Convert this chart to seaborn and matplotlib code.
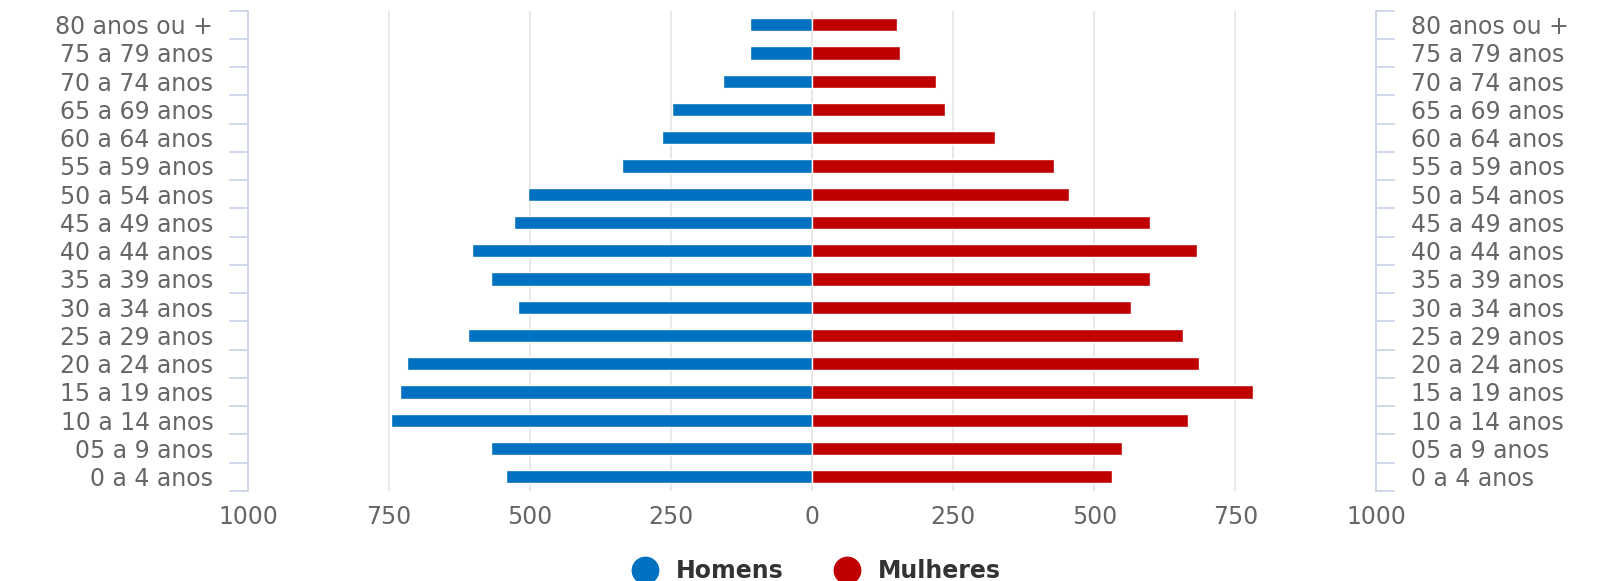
import numpy as np
import pandas as pd
import matplotlib.pyplot as plt
from matplotlib.lines import Line2D
import seaborn as sns

# faixas etarias (de cima para baixo)
faixas = ['80 anos ou +', '75 a 79 anos', '70 a 74 anos', '65 a 69 anos',
          '60 a 64 anos', '55 a 59 anos', '50 a 54 anos', '45 a 49 anos',
          '40 a 44 anos', '35 a 39 anos', '30 a 34 anos', '25 a 29 anos',
          '20 a 24 anos', '15 a 19 anos', '10 a 14 anos', '05 a 9 anos',
          '0 a 4 anos']
homens = [111, 111, 158, 249, 267, 338, 503, 529, 603, 570, 522, 610,
          719, 730, 747, 570, 543]
mulheres = [151, 155, 219, 235, 324, 429, 456, 598, 682, 598, 565, 657,
            686, 782, 666, 549, 531]
sexos = ['Homens', 'Mulheres']
cores = {'Homens': '#0070c0', 'Mulheres': '#c00000'}
ticks_x = [-1000, -750, -500, -250, 0, 250, 500, 750, 1000]

df = pd.DataFrame({
    'faixa': faixas * 2,
    'valor': [-v for v in homens] + mulheres,
    'sexo': ['Homens'] * len(faixas) + ['Mulheres'] * len(faixas),
})

sns.set_style('white')
plt.rcParams['font.family'] = ['DejaVu Sans']

fig = plt.figure(figsize=(16.13, 5.81), dpi=100)
ax = fig.add_axes([0.1538, 0.1553, 0.6995, 0.8265])

sns.barplot(data=df, y='faixa', x='valor', hue='sexo', order=faixas,
            hue_order=sexos, palette=cores, saturation=1, dodge=False,
            width=0.47, orient='h', errorbar=None, legend=False,
            edgecolor='white', linewidth=1, ax=ax)

ax.set_xlim(-1000, 1000)
ax.set_xticks(ticks_x)
ax.set_xticklabels([str(abs(t)) for t in ticks_x])
ax.grid(axis='x', color='#e6e6e6', lw=1.3)
ax.set_axisbelow(True)
ax.set_xlabel('')
ax.set_ylabel('')
for s in ['top', 'bottom']:
    ax.spines[s].set_visible(False)
for s in ['left', 'right']:
    ax.spines[s].set_color('#ccd6eb')
    ax.spines[s].set_linewidth(1.3)
ax.tick_params(axis='x', length=0, labelsize=17, labelcolor='#666666', pad=10)

n = len(faixas)
limites = np.arange(-0.5, n, 1.0)
ax.set_yticks(limites, minor=True)
ax.tick_params(axis='y', which='major', length=0, labelsize=17,
               labelcolor='#666666', pad=25)
ax.tick_params(axis='y', which='minor', length=14, color='#ccd6eb', width=1.3)

ax2 = ax.twinx()
ax2.set_ylim(ax.get_ylim())
ax2.set_yticks(range(n))
ax2.set_yticklabels(faixas)
ax2.set_yticks(limites, minor=True)
ax2.tick_params(axis='y', which='major', length=0, labelsize=17,
                labelcolor='#666666', pad=25)
ax2.tick_params(axis='y', which='minor', length=14, color='#ccd6eb', width=1.3)
for s in ['top', 'bottom', 'left']:
    ax2.spines[s].set_visible(False)
ax2.spines['right'].set_color('#ccd6eb')
ax2.spines['right'].set_linewidth(1.3)

handles = [Line2D([], [], marker='o', ls='', markersize=19,
                  markerfacecolor=cores[s], markeredgecolor=cores[s]) for s in sexos]
fig.legend(handles, sexos, loc='center', bbox_to_anchor=(0.503, 0.017), ncol=2,
           frameon=False, prop={'weight': 'bold', 'size': 17},
           labelcolor='#333333', handletextpad=0.3, columnspacing=1.7)

fig.savefig('out.png', dpi=100)
